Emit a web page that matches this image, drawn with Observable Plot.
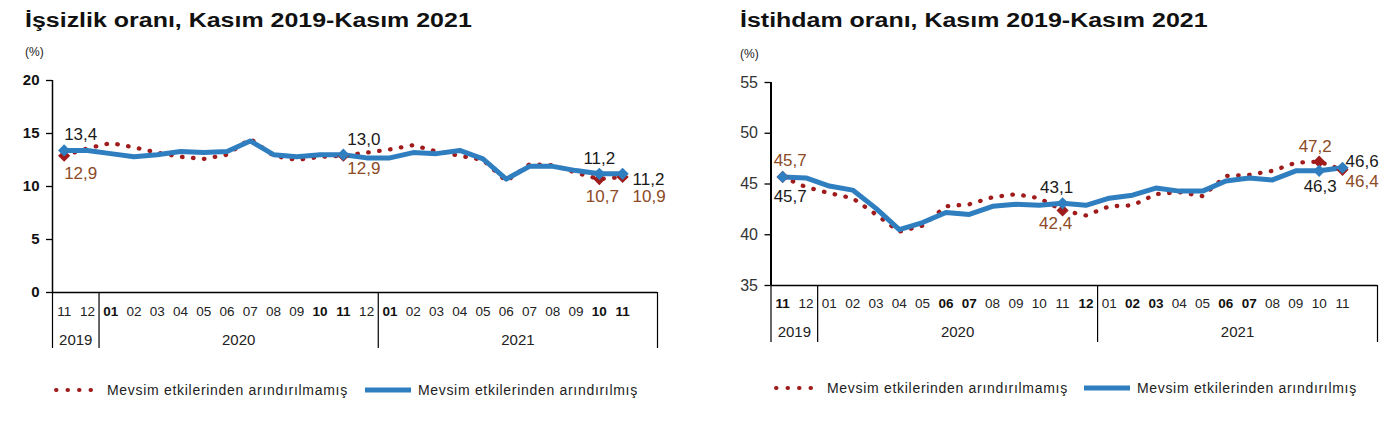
<!DOCTYPE html>
<html><head><meta charset="utf-8">
<script src="https://cdn.jsdelivr.net/npm/d3@7"></script>
<script src="https://cdn.jsdelivr.net/npm/@observablehq/plot@0.6"></script>
<style>
body{margin:0;background:#fff;font-family:"Liberation Sans",Arial,sans-serif;}
#wrap{position:relative;width:1400px;height:424px;overflow:hidden;background:#fff;}
.title{position:absolute;top:11px;font-weight:bold;font-size:19.5px;line-height:19px;color:#111;transform:scaleX(1.28);transform-origin:0 0;white-space:nowrap;}
.unit{position:absolute;font-size:12px;line-height:12px;color:#222;}
.plot{position:absolute;top:60px;}
.legend{position:absolute;display:flex;align-items:center;height:16px;font-size:14px;letter-spacing:0.7px;color:#222;white-space:nowrap;}
.legend svg{margin-right:4px;}
</style></head><body>
<div id="wrap">
  <div class="title" style="left:25px">İşsizlik oranı, Kasım 2019-Kasım 2021</div>
  <div class="title" style="left:740px">İstihdam oranı, Kasım 2019-Kasım 2021</div>
  <div class="unit" style="left:25px;top:46px">(%)</div>
  <div class="unit" style="left:740px;top:48px">(%)</div>
  <div id="left" class="plot" style="left:0px"></div>
  <div id="right" class="plot" style="left:700px"></div>
  <div id="legL" class="legend" style="left:53px;top:382px"></div>
  <div id="legR" class="legend" style="left:773px;top:380px"></div>
</div>
<script>
// ---- data ----
const monthLabels = ["11","12","01","02","03","04","05","06","07","08","09","10","11","12","01","02","03","04","05","06","07","08","09","10","11"];
const yearLabels = ["2019","2020","2021"];
const seriesNames = ["Mevsim etkilerinden arındırılmamış","Mevsim etkilerinden arındırılmış"];

const unempRaw = [12.9,13.6,14.1,13.7,13.2,12.8,12.6,13.0,14.5,12.9,12.5,12.8,12.9,13.2,13.5,13.9,13.3,12.9,12.5,10.5,12.1,12.0,11.3,10.7,10.9];
const unempAdj = [13.4,13.4,13.1,12.8,13.0,13.3,13.2,13.3,14.3,13.0,12.8,13.0,13.0,12.7,12.7,13.2,13.1,13.4,12.6,10.7,11.9,11.9,11.5,11.2,11.2];
const unempTicks = [0,5,10,15,20];

const emplRaw = [45.7,44.7,44.1,43.6,42.0,40.3,40.9,42.8,43.0,43.7,44.0,43.6,42.4,41.9,42.8,42.9,44.0,44.2,43.8,45.8,45.9,46.3,47.1,47.2,46.4];
const emplAdj = [45.7,45.6,44.8,44.4,42.6,40.5,41.2,42.2,42.0,42.8,43.0,42.9,43.1,42.9,43.6,43.9,44.6,44.3,44.3,45.3,45.6,45.4,46.3,46.3,46.6];
const emplTicks = [35,40,45,50,55];

const labeledIdx = [0,12,23,24];

// ---- styles ----
const RED = "#a01c1c", BLUE = "#2f7ebf", BROWN = "#8c4a26", BLACK = "#1a1a1a";
const fmt = v => d3.format(".1f")(v).replace(".", ",");

// year boundaries derived from month labels (a new year starts at "01")
const idx = d3.range(monthLabels.length);
const xEnd = monthLabels.length + 0.5;
const bounds = [-0.5, ...idx.filter(i => monthLabels[i] === "01").map(i => i - 0.5), xEnd];
const yearCenters = d3.range(yearLabels.length).map(k => (bounds[k] + bounds[k+1]) / 2);

function chart(o) {
  const rows = idx.map(i => ({i, raw: o.raw[i], adj: o.adj[i]}));
  const lab = rows.filter(d => labeledIdx.includes(d.i));
  const marks = [
    Plot.ruleY([o.ticks[0]], {stroke: "#000", strokeWidth: 1.5}),
    Plot.ruleX([-0.5], {stroke: "#000", strokeWidth: o.axisW}),
    Plot.axisX(bounds, {tickSize: o.sepLen, tickFormat: () => "", stroke: "#000", strokeWidth: 1.2, label: null}),
    Plot.axisX(idx.filter(i => !o.bold.includes(i)), {tickSize: 0, tickPadding: o.monthPad, tickFormat: i => monthLabels[i], fontSize: 13.5, fill: "#222", label: null}),
    Plot.axisX(o.bold, {tickSize: 0, tickPadding: o.monthPad, tickFormat: i => monthLabels[i], fontSize: 13.5, fontWeight: "bold", fill: "#111", label: null}),
    Plot.axisX(yearCenters, {tickSize: 0, tickPadding: o.yearPad, tickFormat: (d, k) => yearLabels[k], fontSize: 15, fill: "#222", label: null}),
    Plot.axisY(o.ticks, {tickSize: 6, tickPadding: 7, fontSize: o.yFont, fontWeight: o.yWeight, fill: o.yColor, stroke: "#000", strokeWidth: 1.3, label: null}),
    Plot.line(rows, {x: "i", y: "raw", stroke: RED, strokeWidth: 4.3, strokeDasharray: "0.5 10.5", strokeLinecap: "round"}),
    Plot.line(rows, {x: "i", y: "adj", stroke: BLUE, strokeWidth: 5, strokeLinejoin: "round"}),
    Plot.dot(lab, {x: "i", y: "raw", symbol: "diamond2", r: 5.5, fill: RED}),
    Plot.dot(lab, {x: "i", y: "adj", symbol: "diamond2", r: 5.5, fill: BLUE}),
  ];
  for (const a of o.ann) {
    const d = rows.filter(r => r.i === a.i);
    marks.push(Plot.text(d, {x: "i", y: a.s, text: r => fmt(r[a.s]), dx: a.dx, dy: a.dy, textAnchor: a.anchor,
      fill: a.s === "raw" ? BROWN : BLACK, fontSize: 17}));
  }
  return Plot.plot({
    width: o.width, height: o.height,
    marginLeft: o.ml, marginRight: o.mr, marginTop: o.mt, marginBottom: o.mb,
    x: {type: "linear", domain: [-0.5, xEnd], label: null},
    y: {domain: [o.ticks[0], o.ticks[o.ticks.length - 1]], label: null},
    style: {fontFamily: "'Liberation Sans', Arial, sans-serif", background: "transparent", overflow: "visible", color: "#000"},
    marks
  });
}

document.getElementById("left").append(chart({
  raw: unempRaw, adj: unempAdj, ticks: unempTicks,
  width: 690, height: 292, ml: 52, mr: 33, mt: 20, mb: 60,
  sepLen: 56, monthPad: 14, yearPad: 41.5, axisW: 1.5,
  yFont: 15, yWeight: "bold", yColor: "#111",
  bold: [2, 11, 12, 14, 23, 24],
  ann: [
    {s: "adj", i: 0, dx: 0, dy: -16, anchor: "start"},
    {s: "raw", i: 0, dx: 0, dy: 18, anchor: "start"},
    {s: "adj", i: 12, dx: 4, dy: -15, anchor: "start"},
    {s: "raw", i: 12, dx: 4, dy: 13, anchor: "start"},
    {s: "adj", i: 23, dx: 0, dy: -15, anchor: "middle"},
    {s: "raw", i: 23, dx: 3, dy: 17, anchor: "middle"},
    {s: "adj", i: 24, dx: 10, dy: 6, anchor: "start"},
    {s: "raw", i: 24, dx: 10, dy: 20, anchor: "start"},
  ]
}));

document.getElementById("right").append(chart({
  raw: emplRaw, adj: emplAdj, ticks: emplTicks,
  width: 700, height: 285, ml: 70.5, mr: 23, mt: 22, mb: 60,
  sepLen: 57, monthPad: 12.5, yearPad: 40.5, axisW: 2,
  yFont: 16, yWeight: "normal", yColor: "#333",
  bold: [0, 7, 8, 13, 15, 16, 19, 20],
  ann: [
    {s: "raw", i: 0, dx: -9, dy: -16, anchor: "start"},
    {s: "adj", i: 0, dx: -9, dy: 20, anchor: "start"},
    {s: "adj", i: 12, dx: -6, dy: -16, anchor: "middle"},
    {s: "raw", i: 12, dx: -7, dy: 13, anchor: "middle"},
    {s: "raw", i: 23, dx: -4, dy: -15, anchor: "middle"},
    {s: "adj", i: 23, dx: 1, dy: 16, anchor: "middle"},
    {s: "adj", i: 24, dx: 3, dy: -6, anchor: "start"},
    {s: "raw", i: 24, dx: 3, dy: 12, anchor: "start"},
  ]
}));

function legend(el, gap) {
  const ns = "http://www.w3.org/2000/svg";
  const mk = (color, dotted, name, ml) => {
    const svg = document.createElementNS(ns, "svg");
    svg.setAttribute("width", 50); svg.setAttribute("height", 10);
    const ln = document.createElementNS(ns, "line");
    ln.setAttribute("x1", dotted ? 3 : 1); ln.setAttribute("x2", dotted ? 49 : 47);
    ln.setAttribute("y1", 5); ln.setAttribute("y2", 5);
    ln.setAttribute("stroke", color);
    ln.setAttribute("stroke-width", dotted ? 4 : 5);
    if (dotted) { ln.setAttribute("stroke-dasharray", "0.5 11"); ln.setAttribute("stroke-linecap", "round"); }
    svg.append(ln);
    if (ml) svg.style.marginLeft = ml + "px";
    const sp = document.createElement("span"); sp.textContent = name;
    el.append(svg, sp);
  };
  mk(RED, true, seriesNames[0], 0);
  mk(BLUE, false, seriesNames[1], gap);
}
legend(document.getElementById("legL"), 16);
legend(document.getElementById("legR"), 15);
</script>
</body></html>
